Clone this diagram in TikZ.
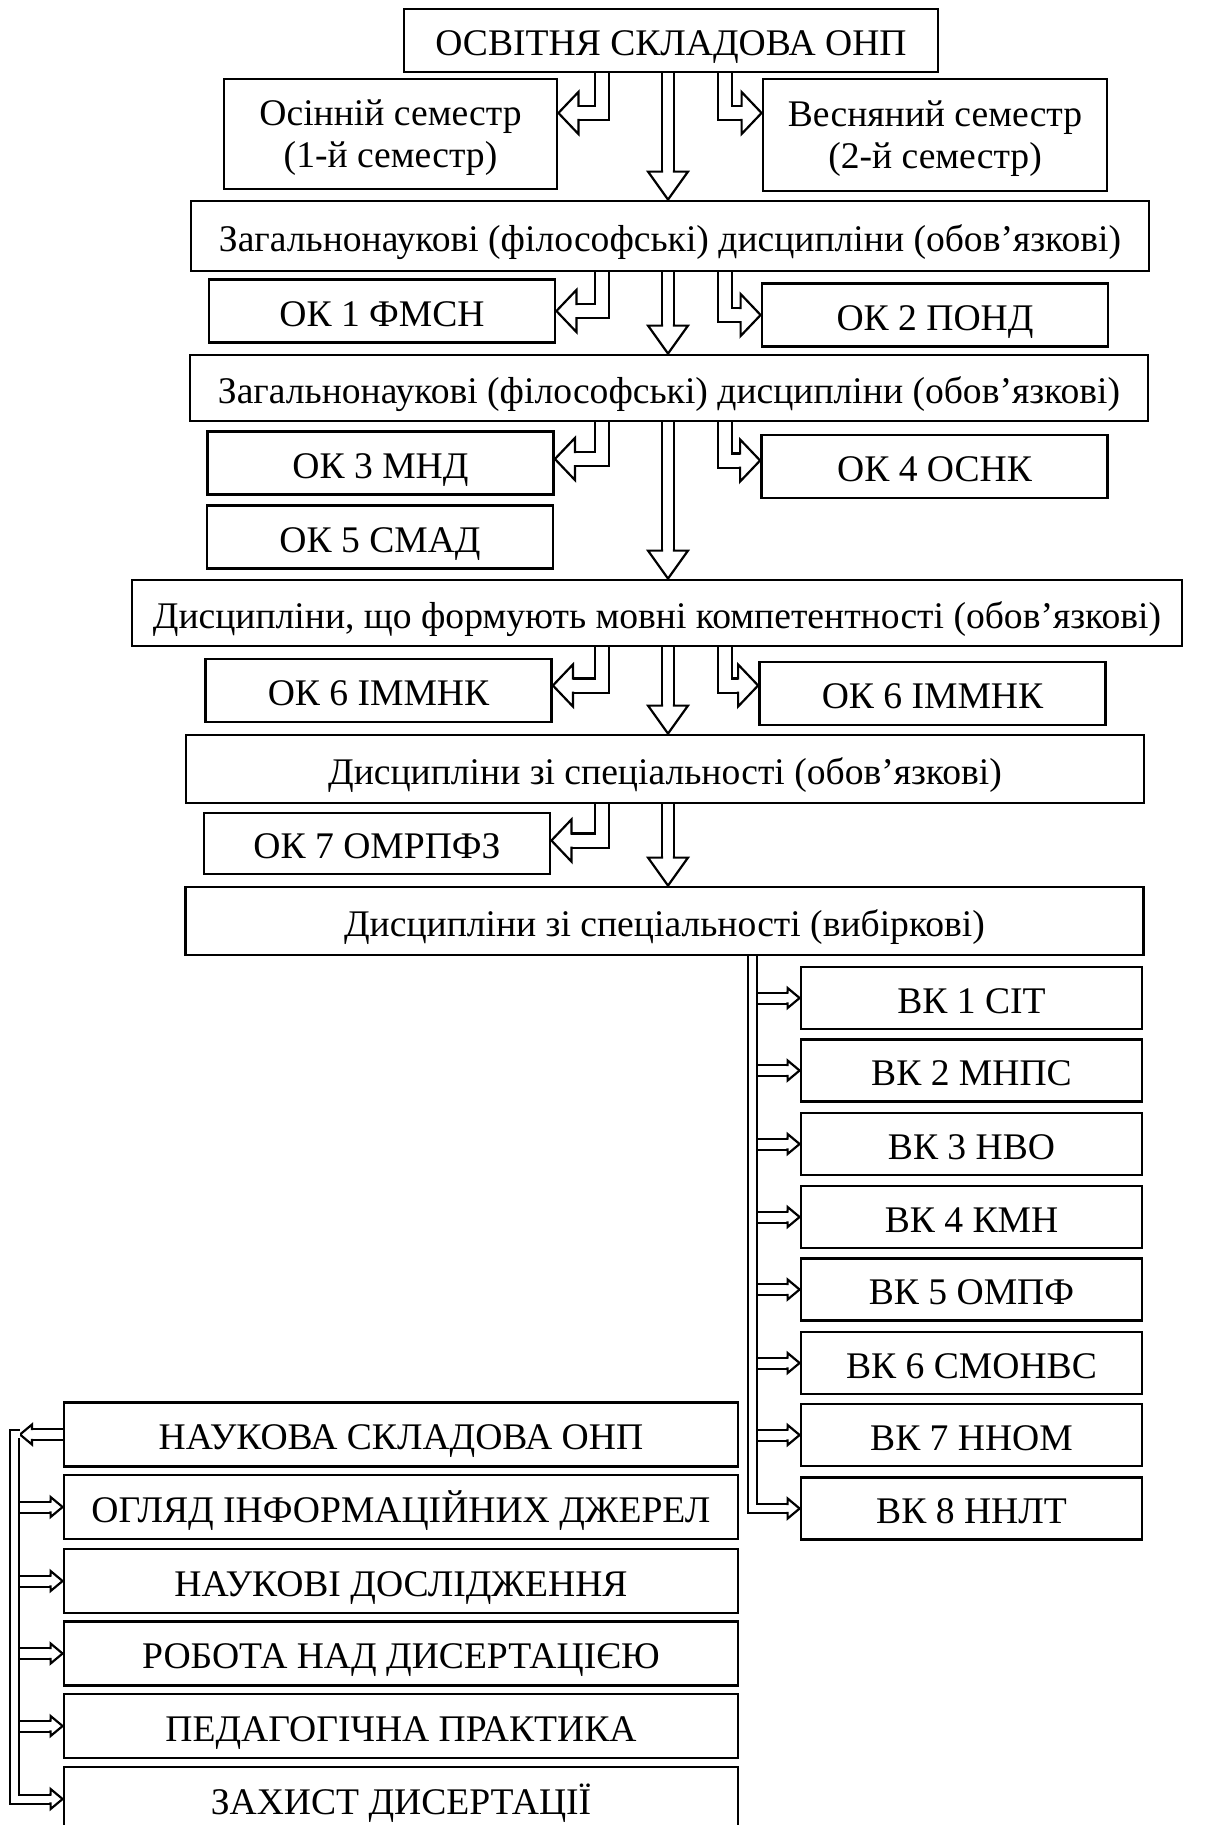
\documentclass[tikz,border=0pt]{standalone}
\usepackage{fontspec}
\setmainfont{Liberation Serif}
\usetikzlibrary{arrows.meta,calc}

% open head for the double connectors
\pgfdeclarearrow{
  name = Hollow,
  defaults = {length=10pt, width=20pt, inset=3pt},
  setup code = {
    \pgfarrowssettipend{0pt}
    \pgfarrowssetlineend{-\pgfarrowlength}
    \pgfarrowssetbackend{-\pgfarrowlength}
    \pgfarrowssetvisualbackend{-\pgfarrowlength}
    \pgfarrowshullpoint{0pt}{0pt}
    \pgfarrowsupperhullpoint{-\pgfarrowlength}{.5\pgfarrowwidth}
    \pgfarrowssavethe\pgfarrowlength
    \pgfarrowssavethe\pgfarrowwidth
    \pgfarrowssavethe\pgfarrowinset
  },
  drawing code = {
    \pgfsetlinewidth{1.1pt}
    \pgfsetdash{}{0pt}
    \pgfsetmiterjoin
    \pgfsetbuttcap
    \pgfpathmoveto{\pgfpoint{-\pgfarrowlength-0.6pt}{\pgfarrowinset}}
    \pgfpathlineto{\pgfpoint{-\pgfarrowlength}{\pgfarrowinset}}
    \pgfpathlineto{\pgfpoint{-\pgfarrowlength}{.5\pgfarrowwidth}}
    \pgfpathlineto{\pgfqpoint{0pt}{0pt}}
    \pgfpathlineto{\pgfpoint{-\pgfarrowlength}{-.5\pgfarrowwidth}}
    \pgfpathlineto{\pgfpoint{-\pgfarrowlength}{-\pgfarrowinset}}
    \pgfpathlineto{\pgfpoint{-\pgfarrowlength-0.6pt}{-\pgfarrowinset}}
    \pgfusepathqstroke
  },
  parameters = {\the\pgfarrowlength,\the\pgfarrowwidth,\the\pgfarrowinset},
}

\tikzset{
  blk/.style={draw, line width=1.4pt, inner sep=0pt, align=center,
    font=\fontsize{18.8}{21}\selectfont},
  one/.style={blk, text height=15pt, text depth=0pt},
  two/.style={blk, text height=38pt, text depth=4.5pt},
  okbox/.style={one, minimum width=173pt, minimum height=31.5pt},
  widebox/.style={one, minimum width=479pt, minimum height=34pt},
  vkbox/.style={one, minimum width=170.5pt, minimum height=31pt},
  nbox/.style={one, minimum width=337pt, minimum height=32pt},
  dbl/.style={line width=1.1pt, double=white, line join=miter},
  down/.style={dbl, double distance=4.8pt, -{Hollow[length=14pt,width=20pt,inset=2.95pt]}},
  elbow/.style={dbl, double distance=6pt, -{Hollow[length=10pt,width=21pt,inset=3.55pt]}},
  bus/.style={line width=1pt, double=white, double distance=3.5pt, line join=miter,
    -{Hollow[length=6pt,width=10pt,inset=2.25pt]}},
  twig/.style={line width=1pt, double=white, double distance=4.5pt,
    -{Hollow[length=6pt,width=10pt,inset=2.75pt]}},
}

\begin{document}
\begin{tikzpicture}[x=0.5pt, y=-0.5pt]
    \useasboundingbox (0,0) rectangle (1212,1825);

    % Columns of the connectors
    \coordinate (cl) at (602,0);
    \coordinate (cc) at (668,0);
    \coordinate (cr) at (725,0);
    \coordinate (rb) at (752,0);
    \coordinate (rbr) at (758,0);
    \coordinate (lb) at (14,0);
    \coordinate (lbr) at (20,0);

    % Educational part
    \node[one, minimum width=267pt, minimum height=31.5pt] (osvita) at (671,40.5) {ОСВІТНЯ СКЛАДОВА ОНП};
    \node[two, minimum width=166.5pt, minimum height=55pt] (osin) at (390.5,134) {Осінній семестр\\(1-й семестр)};
    \node[two, minimum width=172pt, minimum height=56pt] (vesn) at (935,135) {Весняний семестр\\(2-й семестр)};
    \node[widebox, minimum height=35pt] (zag1) at (670,236) {Загальнонаукові (філософські) дисципліни (обов’язкові)};
    \node[okbox] (ok1) at (382,311) {ОК 1 ФМСН};
    \node[okbox] (ok2) at (935,315) {ОК 2 ПОНД};
    \node[widebox, minimum height=33pt] (zag2) at (669,388) {Загальнонаукові (філософські) дисципліни (обов’язкові)};
    \node[okbox] (ok3) at (380.5,463) {ОК 3 МНД};
    \node[okbox] (ok4) at (934.5,466.5) {ОК 4 ОСНК};
    \node[okbox] (ok5) at (380,537) {ОК 5 СМАД};
    \node[widebox, minimum width=525pt, minimum height=33pt] (movni) at (657,613) {Дисципліни, що формують мовні компетентності (обов’язкові)};
    \node[okbox] (ok6a) at (378.5,690.5) {ОК 6 ІММНК};
    \node[okbox] (ok6b) at (932.5,693.5) {ОК 6 ІММНК};
    \node[widebox] (spec) at (665,769) {Дисципліни зі спеціальності (обов’язкові)};
    \node[okbox, minimum height=30.5pt] (ok7) at (377,843.5) {ОК 7 ОМРПФЗ};
    \node[widebox] (vyb) at (664.5,921) {Дисципліни зі спеціальності (вибіркові)};

    % Elective courses
    \node[vkbox] (vk1) at (971.5,998) {ВК 1 СІТ};
    \node[vkbox] (vk2) at (971.5,1070.5) {ВК 2 МНПС};
    \node[vkbox] (vk3) at (971.5,1144) {ВК 3 НВО};
    \node[vkbox] (vk4) at (971.5,1217) {ВК 4 КМН};
    \node[vkbox] (vk5) at (971.5,1289.5) {ВК 5 ОМПФ};
    \node[vkbox] (vk6) at (971.5,1363) {ВК 6 СМОНВС};
    \node[vkbox] (vk7) at (971.5,1435) {ВК 7 ННОМ};
    \node[vkbox] (vk8) at (971.5,1508.5) {ВК 8 ННЛТ};

    % Research part
    \node[nbox] (nauk1) at (401,1434.5) {НАУКОВА СКЛАДОВА ОНП};
    \node[nbox] (nauk2) at (401,1507) {ОГЛЯД ІНФОРМАЦІЙНИХ ДЖЕРЕЛ};
    \node[nbox] (nauk3) at (401,1581) {НАУКОВІ ДОСЛІДЖЕННЯ};
    \node[nbox] (nauk4) at (401,1653.5) {РОБОТА НАД ДИСЕРТАЦІЄЮ};
    \node[nbox] (nauk5) at (401,1726) {ПЕДАГОГІЧНА ПРАКТИКА};
    \node[nbox] (nauk6) at (401,1799) {ЗАХИСТ ДИСЕРТАЦІЇ};

    % Main line down
    \draw[down] (osvita.south -| cc) -- (zag1.north -| cc);
    \draw[down] (zag1.south -| cc) -- (zag2.north -| cc);
    \draw[down] (zag2.south -| cc) -- (movni.north -| cc);
    \draw[down] (movni.south -| cc) -- (spec.north -| cc);
    \draw[down] (spec.south -| cc) -- (vyb.north -| cc);

    % Side branches
    \draw[elbow] (osvita.south -| cl) |- ($(osin.east)+(0,-21)$);
    \draw[elbow] (osvita.south -| cr) |- ($(vesn.west)+(0,-22)$);
    \draw[elbow] (zag1.south -| cl) |- (ok1.east);
    \draw[elbow] (zag1.south -| cr) |- (ok2.west);
    \draw[elbow] (zag2.south -| cl) |- ($(ok3.east)+(0,-4)$);
    \draw[elbow] (zag2.south -| cr) |- ($(ok4.west)+(0,-6)$);
    \draw[elbow] (movni.south -| cl) |- ($(ok6a.east)+(0,-5)$);
    \draw[elbow] (movni.south -| cr) |- ($(ok6b.west)+(0,-8)$);
    \draw[elbow] (spec.south -| cl) |- ($(ok7.east)+(0,-3)$);

    % Bus of the elective courses
    \draw[bus] (vyb.south -| rb) |- (vk8.west);
    \draw[twig] (vk1.west -| rbr) -- (vk1.west);
    \draw[twig] (vk2.west -| rbr) -- (vk2.west);
    \draw[twig] (vk3.west -| rbr) -- (vk3.west);
    \draw[twig] (vk4.west -| rbr) -- (vk4.west);
    \draw[twig] (vk5.west -| rbr) -- (vk5.west);
    \draw[twig] (vk6.west -| rbr) -- (vk6.west);
    \draw[twig] (vk7.west -| rbr) -- (vk7.west);

    % Bus of the research part
    \draw[twig] (nauk1.west) -- (nauk1.west -| lbr);
    \draw[bus] (nauk1.west -| lbr) -- (nauk1.west -| lb) |- (nauk6.west);
    \draw[twig] (nauk2.west -| lbr) -- (nauk2.west);
    \draw[twig] (nauk3.west -| lbr) -- (nauk3.west);
    \draw[twig] (nauk4.west -| lbr) -- (nauk4.west);
    \draw[twig] (nauk5.west -| lbr) -- (nauk5.west);

\end{tikzpicture}
\end{document}
